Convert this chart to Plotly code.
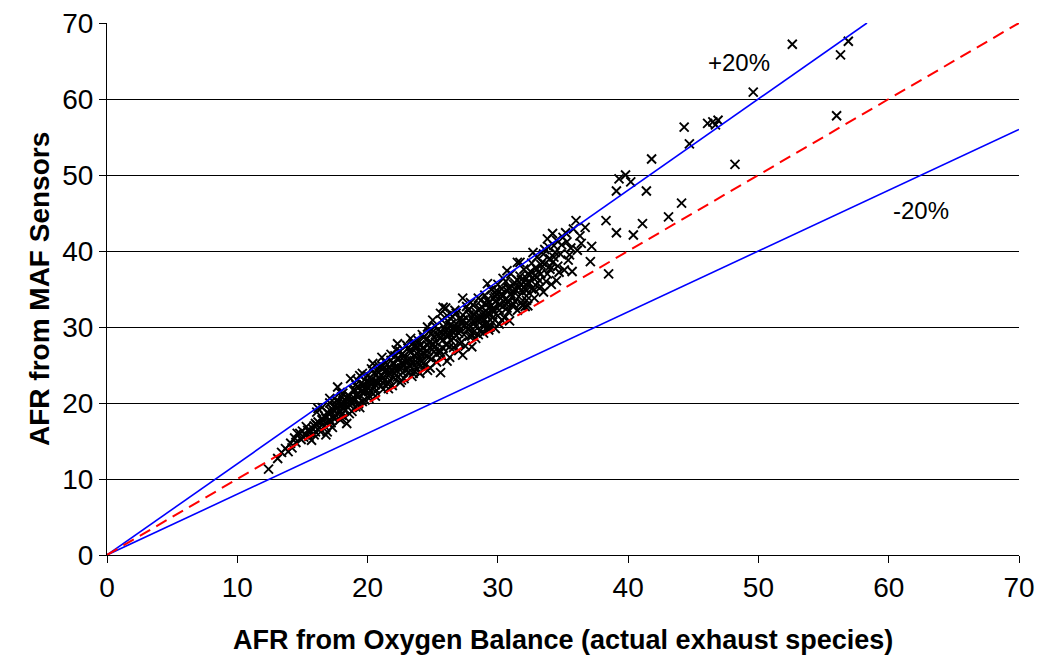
import plotly.graph_objects as go

# ---- scatter samples (AFR from oxygen balance, AFR from MAF sensors) ----
o2_a = [12.4, 13.1, 13.4, 13.7, 13.9, 14.1, 14.2, 14.4, 14.5, 14.6, 14.8, 14.9, 15.0, 15.2, 15.4,
        15.5, 15.7, 15.8, 15.9, 16.0, 16.1, 16.1, 16.2, 16.3, 16.5, 16.6, 16.7, 16.8, 16.9, 16.9]
maf_a = [11.3, 12.7, 13.5, 14.0, 13.6, 14.7, 14.1, 15.4, 14.8, 16.0, 16.0, 15.2, 16.3, 15.8, 16.4,
         15.6, 15.1, 16.6, 17.0, 16.2, 17.1, 18.8, 19.3, 16.8, 19.4, 17.7, 18.3, 15.8, 16.2, 17.5]

o2_b = [17.0, 17.1, 17.1, 17.2, 17.3, 17.4, 17.5, 17.6, 17.7, 17.8, 17.9, 17.9, 18.0, 18.1, 18.2,
        18.3, 18.4, 18.5, 18.6, 18.7, 18.7, 18.8, 18.9, 19.0, 19.1, 19.2, 19.3, 19.4, 19.4, 19.5,
        19.6, 19.7, 19.8, 19.9, 20.0, 20.1, 20.2, 20.3, 20.4, 20.5]
maf_b = [18.6, 20.0, 20.6, 17.4, 19.2, 18.0, 18.1, 20.3, 22.1, 19.6, 19.0, 21.4, 18.4, 21.3, 20.0,
         19.1, 17.3, 21.0, 19.8, 20.4, 23.2, 18.9, 21.7, 20.6, 22.4, 23.0, 19.9, 19.4, 23.6, 21.5,
         23.9, 21.3, 20.4, 22.8, 22.1, 21.0, 23.4, 24.5, 25.2, 22.0]

o2_c = [20.6, 20.7, 20.8, 20.9, 21.0, 21.1, 21.2, 21.3, 21.4, 21.5, 21.6, 21.7, 21.8, 21.9, 22.0,
        22.1, 22.2, 22.3, 22.3, 22.4, 22.5, 22.6, 22.7, 22.8, 22.9, 23.0, 23.0, 23.1, 23.2, 23.3,
        23.4, 23.5, 23.5, 23.6, 23.7, 23.8, 23.9, 24.0, 24.0, 24.0]
maf_c = [20.9, 23.7, 22.6, 24.8, 23.0, 26.0, 21.8, 24.2, 25.3, 22.6, 23.6, 24.7, 26.4, 22.3, 25.1,
         23.9, 27.0, 27.8, 23.4, 25.8, 22.7, 24.6, 26.5, 23.2, 25.4, 27.6, 25.6, 24.0, 26.9, 28.5,
         23.5, 23.9, 25.2, 27.4, 24.7, 26.5, 28.2, 24.0, 25.6, 23.9]

o2_d = [24.1, 24.2, 24.3, 24.4, 24.5, 24.6, 24.6, 24.7, 24.8, 24.8, 24.9, 25.0, 25.1, 25.2, 25.3,
        25.4, 25.5, 25.6, 25.6, 25.6, 25.7, 25.8, 25.9, 26.0, 26.0, 26.1, 26.2, 26.3, 26.3, 26.4,
        26.5, 26.6, 26.6, 26.7, 26.8, 26.9, 27.0, 27.1, 27.2, 27.3, 27.3, 27.4, 27.5, 27.6, 27.7,
        27.8, 27.9, 27.9, 28.0, 28.1]
maf_d = [27.0, 29.0, 26.5, 25.0, 28.3, 24.3, 30.0, 26.0, 27.3, 24.6, 29.2, 30.9, 26.8, 28.0, 25.4,
         29.6, 27.0, 24.0, 28.5, 31.8, 26.2, 32.6, 29.9, 32.5, 27.7, 25.5, 30.7, 29.2, 26.0, 28.2,
         31.4, 27.3, 30.0, 32.2, 28.9, 29.8, 26.9, 31.0, 28.0, 26.3, 33.8, 30.2, 27.5, 30.5, 32.2,
         28.8, 30.0, 33.2, 27.4, 29.3]

o2_e = [28.2, 28.3, 28.4, 28.4, 28.5, 28.6, 28.7, 28.8, 28.9, 29.0, 29.1, 29.2, 29.2, 29.2, 29.3,
        29.4, 29.4, 29.5, 29.6, 29.7, 29.8, 29.9, 29.9, 30.0, 30.1, 30.2, 30.3, 30.4, 30.5, 30.6,
        30.7, 30.7, 30.8, 30.9, 31.0, 31.1, 31.2, 31.3, 31.5, 31.5, 31.6, 31.7, 31.8, 31.9, 32.0]
maf_e = [31.6, 28.5, 30.9, 31.3, 29.0, 32.4, 33.5, 30.2, 29.2, 31.0, 33.0, 35.7, 30.0, 31.8, 29.6,
         31.8, 30.0, 32.8, 30.6, 33.8, 29.8, 34.8, 34.4, 31.5, 30.4, 32.9, 35.0, 36.4, 31.2, 33.6,
         34.8, 37.4, 32.0, 30.8, 34.4, 32.8, 35.6, 33.4, 38.5, 36.2, 34.0, 38.5, 33.2, 32.8, 35.2]

o2_f = [32.1, 32.2, 32.2, 32.2, 32.3, 32.3, 32.5, 32.6, 32.7, 32.8, 32.9, 32.9, 33.0, 33.2, 33.3,
        33.4, 33.5, 33.6, 33.8, 33.8, 34.0, 34.1, 34.2, 34.2, 34.3, 34.5, 34.6, 34.8, 35.0, 35.1,
        35.2, 35.4, 35.6, 35.7, 35.8, 36.0, 36.1, 36.3, 36.4, 36.7, 37.1, 37.2]
maf_f = [32.7, 34.1, 36.4, 34.8, 35.9, 32.8, 37.3, 35.0, 39.8, 33.8, 35.5, 37.8, 36.6, 36.1, 38.2,
         38.5, 34.6, 40.2, 37.0, 41.6, 39.0, 35.6, 42.3, 38.5, 40.7, 36.1, 38.0, 39.6, 41.8, 37.5,
         42.4, 38.8, 40.4, 37.3, 42.9, 44.0, 40.1, 42.0, 41.0, 43.1, 38.6, 40.6]

o2_g = [38.3, 38.5, 39.1, 39.3, 39.1, 39.8, 40.2, 40.4, 41.1, 41.4, 41.8, 43.1, 44.1, 44.3, 44.7,
        46.1, 46.5, 46.9, 46.7, 48.2, 49.6, 52.6, 56.0, 56.3, 56.9]
maf_g = [44.0, 37.0, 47.9, 49.5, 42.4, 50.0, 49.1, 42.1, 43.6, 47.9, 52.1, 44.5, 46.3, 56.3, 54.1,
         56.8, 57.0, 57.2, 56.6, 51.4, 60.9, 67.2, 57.8, 65.8, 67.6]

# extra samples filling the dense core of the band
core_pairs = [
    (15.1, 15.5), (15.3, 16.9), (15.6, 16.1), (15.9, 15.8), (16.2, 17.5), (16.4, 16.2),
    (16.7, 17.0), (16.9, 18.8), (17.1, 17.8), (17.3, 16.8), (17.5, 19.6), (17.7, 18.6),
    (17.9, 17.8), (18.1, 19.8), (18.2, 18.2), (18.4, 20.7), (18.6, 18.6), (18.8, 19.9),
    (19.0, 21.8), (19.1, 19.5), (19.3, 20.8), (19.5, 22.6), (19.6, 20.2), (19.8, 21.9),
    (20.0, 23.6), (20.1, 20.6), (20.3, 22.5), (20.5, 23.9), (20.6, 21.5), (20.8, 24.1),
    (21.0, 22.2), (21.1, 24.9), (21.3, 23.0), (21.5, 24.4), (21.6, 21.9), (21.8, 25.6),
    (22.0, 23.3), (22.1, 26.2), (22.3, 24.8), (22.5, 26.8), (22.6, 23.0), (22.8, 25.1),
    (23.0, 24.4), (23.1, 27.2), (23.3, 25.7), (23.5, 27.9), (23.6, 24.2), (23.8, 25.3),
    (24.0, 27.6), (24.1, 24.9), (24.3, 28.6), (24.5, 26.2), (24.7, 29.4), (24.9, 25.8),
    (25.0, 27.8), (25.2, 30.1), (25.3, 26.4), (25.5, 28.9), (25.7, 30.9), (25.8, 27.2),
    (26.0, 29.4), (26.1, 31.5), (26.3, 27.4), (26.4, 30.3), (26.6, 28.5), (26.8, 31.8),
    (27.0, 29.2), (27.1, 27.8), (27.3, 31.6), (27.4, 29.0), (27.6, 32.7), (27.8, 30.8),
    (28.0, 28.8), (28.1, 32.9), (28.3, 30.1), (28.5, 33.8), (28.6, 29.5), (28.8, 31.7),
    (29.0, 34.2), (29.1, 30.5), (29.3, 32.5), (29.5, 34.9), (29.6, 31.2), (29.8, 33.3),
    (30.0, 35.6), (30.1, 32.2), (30.3, 30.9), (30.4, 34.1), (30.6, 36.0), (30.7, 32.5),
    (30.9, 35.2), (31.0, 37.0), (31.2, 33.0), (31.4, 34.8), (31.5, 32.2), (31.7, 36.7),
    (31.9, 34.6), (32.0, 37.6), (32.2, 33.5), (32.4, 36.8), (32.6, 38.4), (32.8, 34.9),
    (33.0, 39.2), (33.1, 37.2), (33.3, 35.3), (33.5, 39.6), (33.7, 36.0), (33.9, 40.5),
    (34.0, 37.6), (34.3, 39.2), (34.5, 41.4), (34.7, 37.2), (34.9, 40.8), (35.3, 41.2),
    (35.5, 39.5),
    (17.4, 19.0), (18.0, 20.8), (18.5, 19.4), (19.2, 21.2), (19.7, 22.4), (20.2, 21.6),
    (20.7, 22.9), (21.2, 23.4), (21.7, 23.0), (22.2, 24.3), (22.7, 24.0), (23.2, 25.0),
    (23.7, 26.0), (24.2, 25.5), (24.6, 27.6), (25.1, 28.6), (25.6, 26.7), (26.2, 28.8),
    (26.7, 29.6), (27.2, 30.5), (27.7, 29.7), (28.2, 30.6), (28.7, 31.2), (29.2, 33.6),
    (29.7, 32.0), (30.2, 33.8), (30.8, 33.2), (31.3, 35.8), (31.8, 35.5), (32.3, 37.0),
]
mid_pairs = [
    (16.0, 17.3), (16.5, 17.8), (16.8, 18.0), (17.2, 18.9), (17.6, 19.2), (17.8, 20.2),
    (18.1, 19.3), (18.3, 20.3), (18.6, 20.9), (18.9, 20.4), (19.1, 21.0), (19.3, 22.0),
    (19.6, 21.7), (19.9, 21.6), (20.1, 22.8), (20.3, 23.0), (20.6, 22.4), (20.8, 23.3),
    (21.1, 23.6), (21.3, 24.7), (21.6, 24.0), (21.8, 24.3), (22.1, 24.6), (22.3, 25.9),
    (22.6, 25.2), (22.8, 26.1), (23.1, 25.5), (23.3, 26.6), (23.6, 26.3), (23.8, 27.3),
    (24.1, 26.4), (24.3, 27.3), (24.6, 26.8), (24.8, 28.1), (25.1, 27.3), (25.3, 29.0),
    (25.6, 29.4), (25.8, 28.3), (26.1, 29.0), (26.3, 30.2), (26.6, 29.2), (26.8, 30.4),
    (27.1, 29.6), (27.3, 30.9), (27.6, 30.0), (27.8, 31.6), (28.1, 30.8), (28.3, 32.0),
    (28.6, 31.0), (28.8, 32.6), (29.1, 31.6), (29.3, 33.2), (29.6, 32.4), (29.8, 34.0),
    (30.1, 33.0), (30.3, 34.4), (30.6, 33.1), (30.8, 35.1), (31.1, 34.0), (31.3, 35.0),
    (31.6, 35.3), (31.8, 36.2), (32.1, 35.0), (32.4, 35.8), (32.7, 36.5), (33.0, 37.6),
    (33.3, 37.0), (33.6, 38.3), (34.0, 38.0), (34.4, 39.8),
]
o2_h = [p[0] for p in core_pairs + mid_pairs]
maf_h = [p[1] for p in core_pairs + mid_pairs]

# ---- reference lines ----
plus20_x = [0, 58.33]
plus20_y = [0, 70]
minus20_x = [0, 70]
minus20_y = [0, 56]
unity_x = [0, 70]
unity_y = [0, 70]

axis_ticks = [0, 10, 20, 30, 40, 50, 60, 70]
x_title = "AFR from Oxygen Balance (actual exhaust species)"
y_title = "AFR from MAF Sensors"

afr_o2 = o2_a + o2_b + o2_c + o2_d + o2_e + o2_f + o2_g + o2_h
afr_maf = maf_a + maf_b + maf_c + maf_d + maf_e + maf_f + maf_g + maf_h

FONT = "Liberation Sans, Arial, sans-serif"

fig = go.Figure()
fig.add_trace(go.Scatter(
    x=afr_o2, y=afr_maf, mode="markers", showlegend=False,
    marker=dict(symbol="x-thin", size=9, color="black",
                line=dict(width=1.9, color="black")),
))
fig.add_trace(go.Scatter(x=plus20_x, y=plus20_y, mode="lines", showlegend=False,
                         line=dict(color="#0000ff", width=1.6)))
fig.add_trace(go.Scatter(x=minus20_x, y=minus20_y, mode="lines", showlegend=False,
                         line=dict(color="#0000ff", width=1.6)))
fig.add_trace(go.Scatter(x=unity_x, y=unity_y, mode="lines", showlegend=False,
                         line=dict(color="#ff0000", width=2, dash="12px,7px")))

fig.update_layout(
    width=1043, height=659,
    margin=dict(l=107, r=24, t=23, b=104),
    paper_bgcolor="white", plot_bgcolor="white",
    font=dict(family=FONT, color="black", size=24),
    xaxis=dict(range=[0, 70], tickvals=axis_ticks, showgrid=False, zeroline=False,
               automargin=False,
               showline=True, linecolor="black", linewidth=1,
               ticks="outside", ticklen=7, tickcolor="black",
               tickfont=dict(size=28, family=FONT)),
    yaxis=dict(range=[0, 70], tickvals=axis_ticks, showgrid=True, gridcolor="black",
               gridwidth=1, zeroline=False, automargin=False,
               showline=True, linecolor="black", linewidth=1,
               ticks="outside", ticklen=7, tickcolor="black",
               tickfont=dict(size=28, family=FONT)),
    annotations=[
        dict(text="<b>" + x_title + "</b>", xref="paper", yref="paper", x=0.5, y=0,
             yshift=-85, showarrow=False, font=dict(size=27, family=FONT),
             xanchor="center", yanchor="middle"),
        dict(text="<b>" + y_title + "</b>", xref="paper", yref="paper", x=0, y=0.5,
             xshift=-68, showarrow=False, textangle=-90, font=dict(size=28, family=FONT),
             xanchor="center", yanchor="middle"),
        dict(text="+20%", xref="x", yref="y", x=48.5, y=64.8, showarrow=False,
             font=dict(size=24, family=FONT)),
        dict(text="-20%", xref="x", yref="y", x=62.5, y=45.3, showarrow=False,
             font=dict(size=24, family=FONT)),
    ],
)

# remove the default 8px page margin so the figure fills the window exactly
fig.write_html("out.html", config={"displayModeBar": False},
               post_script="document.body.style.margin='0';")
